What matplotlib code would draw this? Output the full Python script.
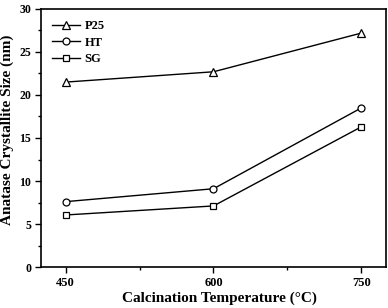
import matplotlib
matplotlib.use("Agg")
import matplotlib.pyplot as plt
from matplotlib.ticker import MultipleLocator

# data
temps = [450, 600, 750]
p25 = [21.5, 22.7, 27.2]
ht = [7.6, 9.1, 18.5]
sg = [6.05, 7.1, 16.3]

plt.rcParams['font.family'] = 'Liberation Serif'
plt.rcParams['font.weight'] = 'bold'

fig = plt.figure(figsize=(3.88, 3.08), dpi=100)
ax = fig.add_axes([0.1057, 0.1331, 0.8891, 0.8377])

style = dict(color='black', lw=1.0, markerfacecolor='white', markeredgecolor='black',
             markeredgewidth=0.9)
ax.plot(temps, p25, marker='^', markersize=5.5, label='P25', **style)
ax.plot(temps, ht, marker='o', markersize=5, label='HT', **style)
ax.plot(temps, sg, marker='s', markersize=4.2, label='SG', **style)

ax.set_xlim(425, 775)
ax.set_ylim(0, 30)
ax.set_xticks(temps)
ax.xaxis.set_minor_locator(MultipleLocator(75))
ax.yaxis.set_major_locator(MultipleLocator(5))
ax.yaxis.set_minor_locator(MultipleLocator(2.5))
ax.tick_params(which='both', direction='out', width=1)
ax.tick_params(axis='x', labelsize=9, pad=3)
ax.tick_params(axis='y', labelsize=8.5, pad=3)
ax.tick_params(which='major', length=4)
ax.tick_params(which='minor', length=2.5)
for s in ax.spines.values():
    s.set_linewidth(1.2)

ax.set_xlabel('Calcination Temperature (°C)', fontsize=11, fontweight='bold')
ax.set_ylabel('Anatase Crystallite Size (nm)', fontsize=11, fontweight='bold')
ax.xaxis.set_label_coords(0.516, -0.095)
ax.yaxis.set_label_coords(-0.078, 0.533)

ax.legend(loc='upper left', frameon=False, fontsize=9, handlelength=2.2,
          borderaxespad=0.5, labelspacing=0.35, handletextpad=0.4)

fig.savefig('out.png', dpi=100)
